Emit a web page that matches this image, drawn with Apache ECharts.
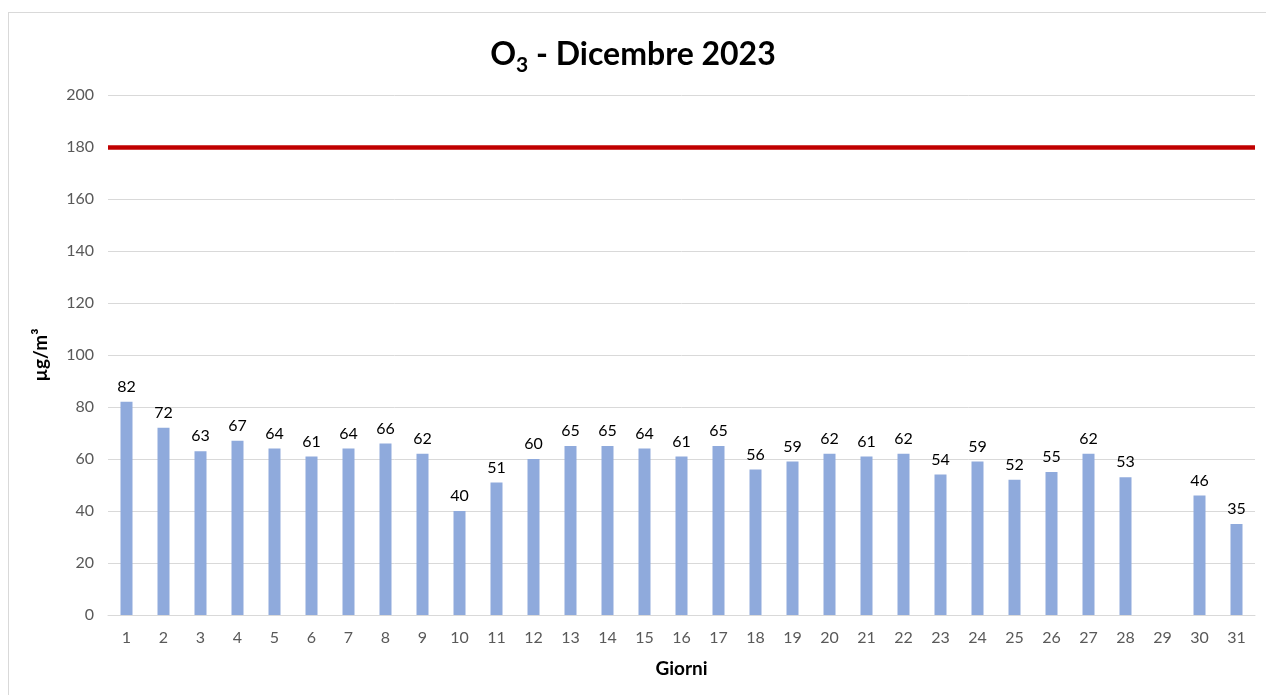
<!DOCTYPE html>
<html>
<head>
<meta charset="utf-8">
<script src="https://cdn.jsdelivr.net/npm/echarts@6/dist/echarts.min.js"></script>
<style>
html,body{margin:0;padding:0;background:#fff;}
#frame{position:absolute;left:8px;top:12px;width:1266px;height:700px;border:1px solid #d9d9d9;box-sizing:border-box;}
#chart{position:absolute;left:0;top:0;width:1266px;height:695px;}
</style>
</head>
<body>
<div id="frame"></div>
<div id="chart"></div>
<script>
const days = ['1','2','3','4','5','6','7','8','9','10','11','12','13','14','15','16','17','18','19','20','21','22','23','24','25','26','27','28','29','30','31'];
const o3Values = [82,72,63,67,64,61,64,66,62,40,51,60,65,65,64,61,65,56,59,62,61,62,54,59,52,55,62,53,null,46,35];
const limitValue = 180;
const yTicks = {min:0, max:200, interval:20};

const FONT = 'Lato, "Open Sans", sans-serif';
const chart = echarts.init(document.getElementById('chart'));
chart.setOption({
  animation:false,
  backgroundColor:'transparent',
  title:{
    text:'O{sub|3} - Dicembre 2023',
    left:'center', top:28,
    textStyle:{
      fontFamily:FONT, fontSize:32, fontWeight:'bold', color:'#000',
      rich:{sub:{fontFamily:FONT, fontSize:21, fontWeight:'bold', color:'#000', verticalAlign:'bottom', padding:[22,0,0,0]}}
    }
  },
  grid:{left:108, right:11, top:95, bottom:80},
  xAxis:{
    type:'category', data:days,
    name:'Giorni', nameLocation:'middle', nameGap:44,
    nameTextStyle:{fontFamily:FONT, fontSize:19, fontWeight:'bold', color:'#000'},
    axisLine:{lineStyle:{color:'#d9d9d9'}},
    axisTick:{show:false},
    axisLabel:{fontFamily:FONT, fontSize:16, color:'#595959', margin:15, interval:0}
  },
  yAxis:{
    type:'value', min:yTicks.min, max:yTicks.max, interval:yTicks.interval,
    name:'µg/m³', nameLocation:'middle', nameGap:58,
    nameTextStyle:{fontFamily:FONT, fontSize:19, fontWeight:'bold', color:'#000'},
    axisLine:{show:false}, axisTick:{show:false},
    axisLabel:{fontFamily:FONT, fontSize:16, color:'#595959', margin:14},
    splitLine:{lineStyle:{color:'#d9d9d9'}}
  },
  series:[{
    type:'bar', data:o3Values, barWidth:12,
    itemStyle:{color:'#8faadc'},
    label:{show:true, position:'top', distance:7, fontFamily:FONT, fontSize:16, color:'#000'},
    markLine:{
      silent:true, symbol:'none',
      label:{show:false},
      lineStyle:{color:'#c00000', width:4.5, type:'solid'},
      data:[{yAxis:limitValue}]
    }
  }]
});
</script>
</body>
</html>
